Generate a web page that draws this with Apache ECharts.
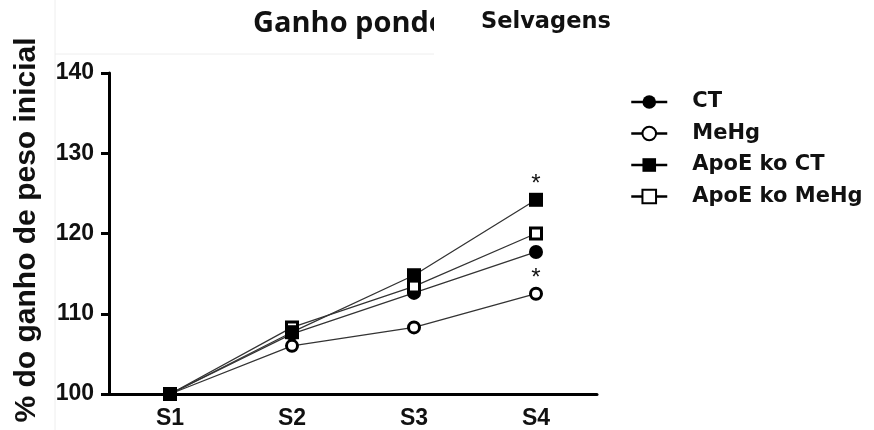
<!DOCTYPE html>
<html>
<head>
<meta charset="utf-8">
<script src="https://cdn.jsdelivr.net/npm/echarts@6/dist/echarts.min.js"></script>
<style>html,body{margin:0;padding:0;background:#fff}#c{width:874px;height:430px}</style>
</head>
<body>
<div id="c"></div>
<script>
const categories = ['S1', 'S2', 'S3', 'S4'];
const seriesNames = ['CT', 'MeHg', 'ApoE ko CT', 'ApoE ko MeHg'];
const ctValues = [100, 107.5, 112.6, 117.7];
const mehgValues = [100, 106.0, 108.3, 112.5];
const apoeCtValues = [100, 107.7, 114.8, 124.2];
const apoeMehgValues = [100, 108.3, 113.4, 120.0];
const mehgSig = ['', '', '', '*'];
const apoeCtSig = ['', '', '', '*'];
const yTicks = [100, 110, 120, 130, 140];
const titleLeft = 'Ganho ponderal';
const titleRight = 'Selvagens';
const yAxisTitle = '% do ganho de peso inicial';

const chart = echarts.init(document.getElementById('c'));

function withSig(values, sig) {
  return values.map((v, i) => sig[i] ? {
    value: v,
    label: { show: true, formatter: sig[i], position: 'top', distance: -4,
      fontFamily: 'Liberation Sans', fontSize: 24, color: '#111' }
  } : v);
}

const lineStyle = { color: '#333', width: 1.3 };
const filled = { color: '#000', borderColor: '#000', borderWidth: 0 };
const open = { color: '#fff', borderColor: '#000', borderWidth: 3 };

chart.setOption({
  animation: false,
  grid: { left: 109, top: 73, width: 488, height: 322 },
  xAxis: {
    type: 'category',
    data: categories,
    boundaryGap: true,
    axisLine: { lineStyle: { color: '#000', width: 3 } },
    axisTick: { alignWithLabel: true, length: 8, lineStyle: { color: '#000', width: 3 } },
    axisLabel: { margin: 13, fontFamily: 'Liberation Sans', fontWeight: 'bold', fontSize: 23, color: '#111' }
  },
  yAxis: {
    type: 'value',
    min: yTicks[0], max: yTicks[yTicks.length - 1], interval: 10,
    axisLine: { show: true, lineStyle: { color: '#000', width: 3 } },
    axisTick: { show: true, length: 8, lineStyle: { color: '#000', width: 3 } },
    splitLine: { show: false },
    axisLabel: { margin: 15, fontFamily: 'Liberation Sans', fontWeight: 'bold', fontSize: 23, color: '#111' }
  },
  legend: {
    orient: 'vertical',
    left: 625, top: 86,
    itemWidth: 36, itemHeight: 17, itemGap: 9.5,
    data: seriesNames,
    lineStyle: { width: 2.5, color: '#000' },
    textStyle: { fontFamily: 'DejaVu Sans', fontWeight: 'bold', fontSize: 21, lineHeight: 22, color: '#111', padding: [0, 0, 0, 20] }
  },
  series: [
    { name: seriesNames[0], type: 'line', data: ctValues, symbol: 'circle', symbolSize: 14,
      itemStyle: filled, lineStyle: lineStyle, z: 3 },
    { name: seriesNames[1], type: 'line', data: withSig(mehgValues, mehgSig), symbol: 'circle', symbolSize: 11,
      itemStyle: open, lineStyle: lineStyle, z: 4 },
    { name: seriesNames[2], type: 'line', data: withSig(apoeCtValues, apoeCtSig), symbol: 'rect', symbolSize: 14,
      itemStyle: filled, lineStyle: lineStyle, z: 6 },
    { name: seriesNames[3], type: 'line', data: apoeMehgValues, symbol: 'rect', symbolSize: 11,
      itemStyle: open, lineStyle: lineStyle, z: 5 }
  ],
  graphic: [
    { type: 'line', shape: { x1: 55, y1: 0, x2: 55, y2: 430 }, style: { stroke: '#eeeeee', lineWidth: 1 }, z: 0 },
    { type: 'line', shape: { x1: 55, y1: 54, x2: 434, y2: 54 }, style: { stroke: '#eeeeee', lineWidth: 1 }, z: 0 },
    { type: 'text', left: 253, top: 9, z: 10,
      style: { text: titleLeft, font: 'bold 29px "Open Sans"', fill: '#111' } },
    { type: 'rect', shape: { x: 434, y: 0, width: 220, height: 53 }, style: { fill: '#fff' }, z: 11 },
    { type: 'text', left: 481, top: 11, z: 12,
      style: { text: titleRight, font: 'bold 22.5px "DejaVu Sans"', fill: '#111' } },
    { type: 'text', x: 27, y: 230, rotation: Math.PI / 2, z: 10,
      style: { text: yAxisTitle, font: 'bold 30px "Liberation Sans"', fill: '#111', align: 'center', verticalAlign: 'middle' } }
  ]
});
</script>
</body>
</html>
